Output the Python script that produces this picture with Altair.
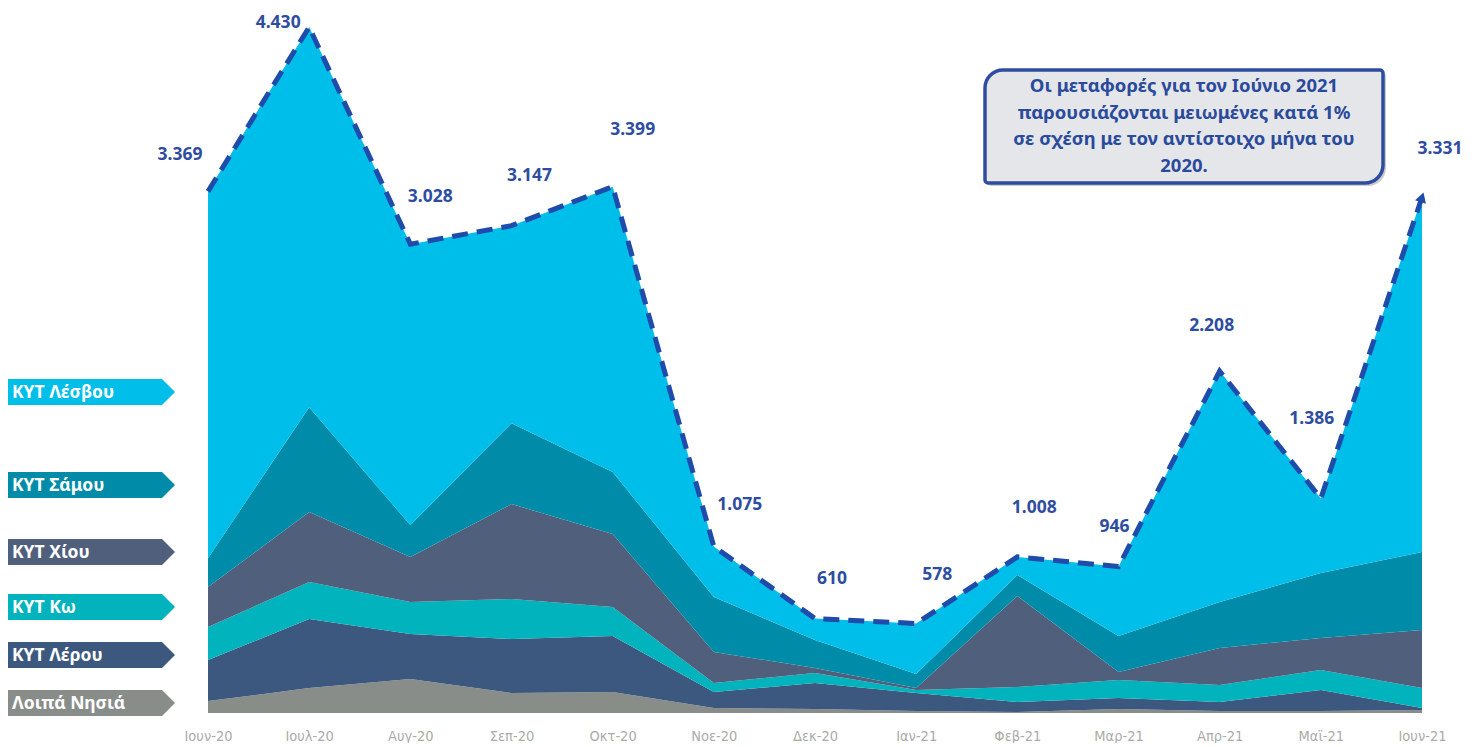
import altair as alt
import pandas as pd

months = ["Ιουν-20", "Ιουλ-20", "Αυγ-20", "Σεπ-20", "Οκτ-20", "Νοε-20", "Δεκ-20",
          "Ιαν-21", "Φεβ-21", "Μαρ-21", "Απρ-21", "Μαϊ-21", "Ιουν-21"]

# stacked bottom -> top
series = ["Λοιπά Νησιά", "ΚΥΤ Λέρου", "ΚΥΤ Κω", "ΚΥΤ Χίου", "ΚΥΤ Σάμου", "ΚΥΤ Λέσβου"]
others = [77, 161, 219, 129, 136, 32, 26, 13, 6, 26, 13, 13, 19]
leros = [265, 446, 291, 349, 361, 104, 168, 116, 65, 71, 58, 135, 13]
kos = [213, 239, 207, 258, 187, 58, 64, 19, 97, 116, 110, 130, 129]
chios = [258, 452, 290, 613, 472, 200, 33, 13, 587, 52, 239, 206, 375]
samos = [187, 677, 207, 523, 400, 355, 180, 91, 136, 232, 297, 420, 503]
lesvos = [2369, 2455, 1814, 1275, 1843, 326, 139, 326, 117, 449, 1491, 482, 2292]
totals = [3369, 4430, 3028, 3147, 3399, 1075, 610, 578, 1008, 946, 2208, 1386, 3331]

colors = ["#898D8A", "#3C587E", "#00B3BD", "#505F7C", "#008CA8", "#00BEEA"]

note_lines = ["Οι μεταφορές για τον Ιούνιο 2021",
              "παρουσιάζονται μειωμένες κατά 1%",
              "σε σχέση με τον αντίστοιχο μήνα του",
              "2020."]

# label offsets (pixels) for the total labels
lbl_dx = [-28, -31, 20, 18, 20, 26, 17, 21, 17, -4, -8, -9, 18]
lbl_dy = [-36, -4, -47, -50, -57, -42, -40, -48, -49, -40, -45, -79, -48]
# legend tag centres (pixels from plot top)
legend_y = [693, 645, 597, 542, 475, 382]

rows = []
for s_i, (name, vals) in enumerate(zip(series, [others, leros, kos, chios, samos, lesvos])):
    for m, v in zip(months, vals):
        rows.append({"month": m, "series": name, "value": v, "rank": s_i})
df = pd.DataFrame(rows)

tot_df = pd.DataFrame({
    "month": months,
    "total": totals,
    "label": [f"{t:,}".replace(",", ".") for t in totals],
})

X = alt.X("month:N", sort=months,
          scale=alt.Scale(type="point", padding=0),
          axis=alt.Axis(title=None, labelAngle=0, ticks=False, domain=False, grid=False,
                        labelColor="#ABABAB", labelFont="DejaVu Sans Condensed",
                        labelFontSize=14.5, labelPadding=16))
YSCALE = alt.Scale(domain=[0, 4540], nice=False, zero=True)

area = alt.Chart(df).mark_area(interpolate="linear").encode(
    x=X,
    y=alt.Y("value:Q", stack="zero", scale=YSCALE, axis=None),
    color=alt.Color("series:N", scale=alt.Scale(domain=series, range=colors), legend=None),
    order=alt.Order("rank:Q", sort="ascending"),
)

line = alt.Chart(tot_df).mark_line(strokeDash=[16, 9], strokeWidth=5, color="#1F4BAA",
                                   strokeCap="butt").encode(
    x=X, y=alt.Y("total:Q", scale=YSCALE, axis=None))

arrow = alt.Chart(tot_df).transform_filter(
    alt.datum.month == months[-1]
).mark_point(shape="triangle-up", filled=True, size=130, angle=18, color="#1F4BAA",
             opacity=1).encode(x=X, y=alt.Y("total:Q", scale=YSCALE, axis=None))

layers = [area, line, arrow]

for i, m in enumerate(months):
    layers.append(
        alt.Chart(tot_df).transform_filter(alt.datum.month == m).mark_text(
            font="Noto Sans", fontWeight="bold", fontSize=17.5, color="#2E4DA0",
            dx=lbl_dx[i], dy=lbl_dy[i], align="center", baseline="middle"
        ).encode(x=X, y=alt.Y("total:Q", scale=YSCALE, axis=None), text="label:N")
    )

# legend tags on the left
tag_path = "M-1,-0.154L0.846,-0.154L1,0L0.846,0.154L-1,0.154Z"
leg_df = pd.DataFrame({"series": series})
for name, col, ly in zip(series, colors, legend_y):
    one = leg_df[leg_df["series"] == name]
    layers.append(
        alt.Chart(one).mark_point(shape=tag_path, size=28561, filled=True, color=col,
                                  opacity=1, strokeWidth=0, clip=False).encode(
            x=alt.value(-117.5), y=alt.value(ly))
    )
    layers.append(
        alt.Chart(one).mark_text(font="Noto Sans", fontWeight="bold", fontSize=17.5,
                                 color="white", align="left", baseline="middle",
                                 clip=False).encode(
            x=alt.value(-196), y=alt.value(ly + 1), text="series:N")
    )

# note box
note_df = pd.DataFrame({"t": ["\n".join(note_lines)]})
layers.append(
    alt.Chart(note_df).mark_rect(fill="#9A9A9A", opacity=0.5,
                                 cornerRadiusTopLeft=18, cornerRadiusBottomRight=18,
                                 cornerRadiusTopRight=3, cornerRadiusBottomLeft=3).encode(
        x=alt.value(780), x2=alt.value(1178), y=alt.value(63), y2=alt.value(176))
)
layers.append(
    alt.Chart(note_df).mark_rect(fill="#E5E6EA", stroke="#2E4DA0", strokeWidth=3.5,
                                 cornerRadiusTopLeft=18, cornerRadiusBottomRight=18,
                                 cornerRadiusTopRight=3, cornerRadiusBottomLeft=3).encode(
        x=alt.value(777), x2=alt.value(1175), y=alt.value(60), y2=alt.value(173))
)
layers.append(
    alt.Chart(note_df).mark_text(text=note_lines, font="Noto Sans", fontWeight="bold",
                                 fontSize=18.5, color="#2A4A9C", align="center",
                                 baseline="middle", lineHeight=26.5).encode(
        x=alt.value(976), y=alt.value(76))
)

chart = alt.layer(*layers).properties(
    width=1214, height=703,
    autosize=alt.AutoSizeParams(type="none"),
    padding={"left": 200, "top": 2, "right": 44, "bottom": 30},
    background="white",
).configure_view(stroke=None)

chart.save("out.html", embed_options={"renderer": "svg", "actions": False})
